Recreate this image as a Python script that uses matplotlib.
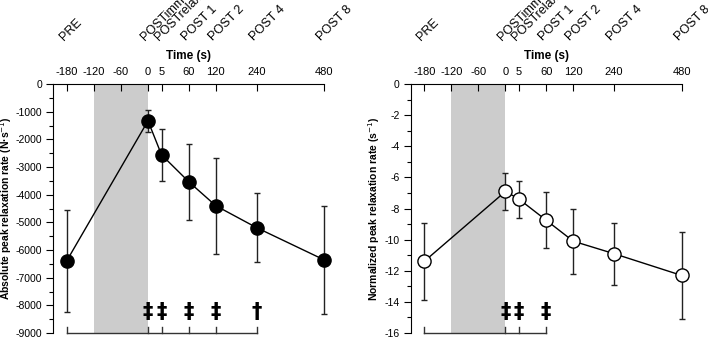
import numpy as np
import matplotlib
matplotlib.use('Agg')
import matplotlib.pyplot as plt
from matplotlib.ticker import MultipleLocator

plt.rcParams['font.family'] = ['Liberation Sans', 'DejaVu Sans']
plt.rcParams['axes.unicode_minus'] = False

# time points (s) and phase names
times = [-180, 0, 5, 60, 120, 240, 480]
phases = ['PRE', 'POSTimm', 'POSTrelax', 'POST 1', 'POST 2', 'POST 4', 'POST 8']
tick_times = [-180, -120, -60, 0, 5, 60, 120, 240, 480]

# absolute peak relaxation rate (N·s-1), mean and SD
abs_mean = [-6400, -1330, -2560, -3530, -4400, -5190, -6360]
abs_sd = [1840, 390, 930, 1370, 1730, 1240, 1940]
abs_mark_times = [0, 5, 60, 120, 240]
abs_marks = ['‡', '‡', '‡', '‡', '†']

# normalized peak relaxation rate (s-1), mean and SD
norm_mean = [-11.4, -6.9, -7.4, -8.75, -10.1, -10.9, -12.3]
norm_sd = [2.5, 1.2, 1.2, 1.8, 2.1, 2.0, 2.8]
norm_mark_times = [0, 5, 60]
norm_marks = ['‡', '‡', '‡']

# broken-up time axis: equal spacing per interval, 0-5 s squeezed
_t = [-300, -180, -120, -60, 0, 5, 60, 120, 240, 480, 720]
_p = [-2, 0, 1, 2, 3, 3.5, 4.5, 5.5, 7, 9.5, 12]


def fwd(x):
    return np.interp(x, _t, _p)


def inv(y):
    return np.interp(y, _p, _t)


def draw_panel(ax, mean, sd, filled, ylim, step, minor, ylabel, mark_times, marks):
    ax.set_xscale('function', functions=(fwd, inv))
    ax.axvspan(-120, 0, color='#cccccc', lw=0, zorder=0)
    eb = ax.errorbar(times, mean, yerr=sd, fmt='none', ecolor='#222222',
                     elinewidth=1, capsize=2.5, capthick=1, zorder=2)
    for art in eb.get_children():
        art.set_clip_on(False)
    ax.plot(times, mean, '-', color='black', lw=1, zorder=3, clip_on=False)
    ax.plot(times, mean, 'o', ms=9.5, mfc='black' if filled else 'white',
            mec='black', mew=1, zorder=4, clip_on=False)

    ax.set_xlim(-210, 480)
    ax.set_ylim(ylim)
    ax.set_yticks(np.arange(ylim[0], ylim[1] + step / 2, step))
    ax.yaxis.set_minor_locator(MultipleLocator(minor))

    ax.xaxis.tick_top()
    ax.xaxis.set_label_position('top')
    ax.set_xticks(tick_times)
    ax.set_xticklabels([str(t) for t in tick_times])
    ax.tick_params(axis='x', direction='in', length=5, width=0.8, pad=5, labelsize=8)
    ax.tick_params(axis='y', which='major', direction='out', length=5, width=0.8,
                   pad=3, labelsize=7.5)
    ax.tick_params(axis='y', which='minor', direction='out', length=3, width=0.8)
    ax.set_xlabel('Time (s)', fontweight='bold', fontsize=8.5, labelpad=6)
    ax.set_ylabel(ylabel, fontweight='bold', fontsize=7.5)
    for s in ['bottom', 'right']:
        ax.spines[s].set_visible(False)
    for s in ['top', 'left']:
        ax.spines[s].set_linewidth(0.8)

    # phase names, rotated above the axis
    for t, name in zip(times, phases):
        ax.annotate(name, xy=(t, 1), xycoords=ax.get_xaxis_transform(),
                    xytext=(-3, 43), textcoords='offset pixels', rotation=45,
                    rotation_mode='anchor', ha='left', va='baseline', fontsize=9,
                    annotation_clip=False)

    # significance bracket along the bottom
    tr = ax.get_xaxis_transform()
    ax.plot([-180, mark_times[-1]], [0, 0], color='#333333', lw=1, transform=tr, clip_on=False)
    for t in [-180] + mark_times:
        ax.plot([t, t], [0, 0.024], color='#333333', lw=1, transform=tr, clip_on=False)
    for t, m in zip(mark_times, marks):
        ax.text(t, 0.084, m, transform=tr, ha='center', va='center',
                fontsize=15, fontweight='bold', family=['DejaVu Sans'])


fig = plt.figure(figsize=(7.08, 3.42), dpi=100)
ax1 = fig.add_axes([0.0749, 0.0263, 0.3832, 0.728])
ax2 = fig.add_axes([0.580, 0.0263, 0.3828, 0.728])

draw_panel(ax1, abs_mean, abs_sd, True, (-9000, 0), 1000, 500,
           'Absolute peak relaxation rate (N·s$^{-1}$)', abs_mark_times, abs_marks)
draw_panel(ax2, norm_mean, norm_sd, False, (-16, 0), 2, 1,
           'Normalized peak relaxation rate (s$^{-1}$)', norm_mark_times, norm_marks)

ax1.yaxis.set_label_coords(-0.145, 0.5)
ax2.yaxis.set_label_coords(-0.106, 0.5)

fig.savefig('out.png', dpi=100)
